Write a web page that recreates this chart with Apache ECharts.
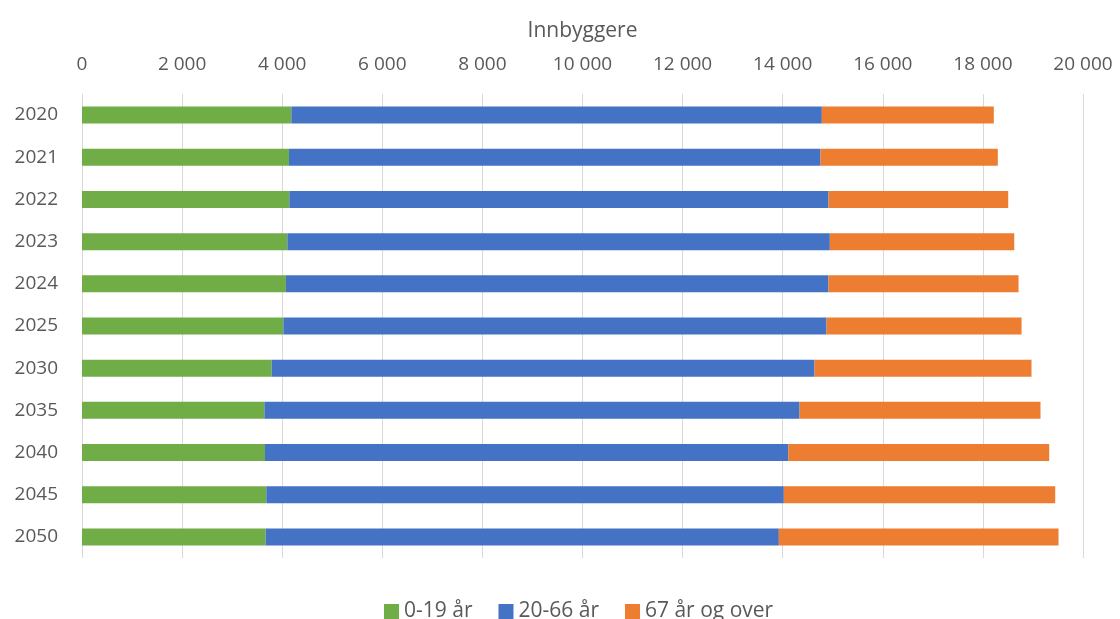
<!DOCTYPE html>
<html>
<head>
<meta charset="utf-8">
<script src="https://cdn.jsdelivr.net/npm/echarts@6/dist/echarts.min.js"></script>
<style>
  html, body { margin: 0; padding: 0; background: #fff; }
  #chart { width: 1120px; height: 619px; }
</style>
</head>
<body>
<div id="chart"></div>
<script>
const years = ['2020', '2021', '2022', '2023', '2024', '2025', '2030', '2035', '2040', '2045', '2050']
const seriesNames = ['0-19 år', '20-66 år', '67 år og over']
const young = [4183, 4135, 4143, 4103, 4075, 4023, 3790, 3644, 3656, 3683, 3670]
const working = [10599, 10621, 10773, 10839, 10841, 10853, 10846, 10693, 10455, 10340, 10253]
const elderly = [3436, 3542, 3590, 3684, 3796, 3896, 4335, 4814, 5214, 5422, 5588]
const colors = ['#70AD47', '#4472C4', '#ED7D31']

const font = 'Open Sans'
const textColor = '#595959'

function fmt (v) {
  return String(v).replace(/\B(?=(\d{3})+(?!\d))/g, ' ')
}

const chart = echarts.init(document.getElementById('chart'))
chart.setOption({
  animation: false,
  textStyle: { fontFamily: font },
  legend: {
    data: seriesNames,
    bottom: -8,
    left: 379,
    itemWidth: 15,
    itemHeight: 15,
    itemGap: 26,
    icon: 'rect',
    textStyle: { color: textColor, fontSize: 21, fontFamily: font }
  },
  grid: {
    left: 82,
    right: 37,
    top: 94,
    bottom: 61
  },
  xAxis: {
    type: 'value',
    position: 'top',
    min: 0,
    max: 20000,
    interval: 2000,
    name: 'Innbyggere',
    nameLocation: 'middle',
    nameGap: 52,
    nameTextStyle: { color: textColor, fontSize: 21, fontFamily: font },
    axisLine: { show: false },
    axisTick: { show: false },
    axisLabel: {
      color: textColor,
      fontSize: 19,
      margin: 20,
      formatter: fmt
    },
    splitLine: { show: true, lineStyle: { color: '#D9D9D9', width: 1 } }
  },
  yAxis: {
    type: 'category',
    inverse: true,
    data: years,
    axisLine: { show: false },
    axisTick: { show: false },
    axisLabel: { color: textColor, fontSize: 19, margin: 24 }
  },
  series: [
    { name: seriesNames[0], type: 'bar', stack: 'total', data: young, barWidth: 17, itemStyle: { color: colors[0] } },
    { name: seriesNames[1], type: 'bar', stack: 'total', data: working, barWidth: 17, itemStyle: { color: colors[1] } },
    { name: seriesNames[2], type: 'bar', stack: 'total', data: elderly, barWidth: 17, itemStyle: { color: colors[2] } }
  ]
})
</script>
</body>
</html>
